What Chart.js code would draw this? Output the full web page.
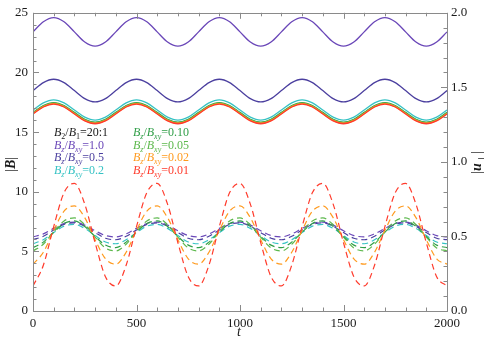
<!DOCTYPE html>
<html>
<head>
<meta charset="utf-8">
<script src="https://cdn.jsdelivr.net/npm/chart.js@4/dist/chart.umd.min.js"></script>
<style>
html,body{margin:0;padding:0;background:#fff;}
#c{display:block;}
</style>
</head>
<body>
<canvas id="c" width="484" height="339"></canvas>
<script>
// time axis (t)
const tValues = [0,50,100,150,200,250,300,350,400,450,500,550,600,650,700,750,800,850,900,950,1000,1050,1100,1150,1200,1250,1300,1350,1400,1450,1500,1550,1600,1650,1700,1750,1800,1850,1900,1950,2000];

// series names (Bz/Bxy ratios)
const ratioLabels = ['1.0','0.5','0.2','0.10','0.05','0.02','0.01'];
const seriesColors = ['#6a47b8','#4b3f9f','#35c2c4','#2f9e47','#5cb84c','#ff9a1e','#ff3b2c'];

// |B| (solid, left axis)
const absB_10 = [23.4,24.25,24.6,24.25,23.4,22.55,22.2,22.55, 23.4,24.25,24.6,24.25,23.4,22.55,22.2,22.55, 23.4,24.25,24.6,24.25,23.4,22.55,22.2,22.55, 23.4,24.25,24.6,24.25,23.4,22.55,22.2,22.55, 23.4,24.25,24.6,24.25,23.4,22.55,22.2,22.55, 23.4];
const absB_05 = [18.48,19.15,19.43,19.15,18.48,17.81,17.53,17.81, 18.48,19.15,19.43,19.15,18.48,17.81,17.53,17.81, 18.48,19.15,19.43,19.15,18.48,17.81,17.53,17.81, 18.48,19.15,19.43,19.15,18.48,17.81,17.53,17.81, 18.48,19.15,19.43,19.15,18.48,17.81,17.53,17.81, 18.48];
const absB_02 = [16.85,17.45,17.7,17.45,16.85,16.25,16.0,16.25, 16.85,17.45,17.7,17.45,16.85,16.25,16.0,16.25, 16.85,17.45,17.7,17.45,16.85,16.25,16.0,16.25, 16.85,17.45,17.7,17.45,16.85,16.25,16.0,16.25, 16.85,17.45,17.7,17.45,16.85,16.25,16.0,16.25, 16.85];
const absB_010 = [16.65,17.23,17.47,17.23,16.65,16.07,15.83,16.07, 16.65,17.23,17.47,17.23,16.65,16.07,15.83,16.07, 16.65,17.23,17.47,17.23,16.65,16.07,15.83,16.07, 16.65,17.23,17.47,17.23,16.65,16.07,15.83,16.07, 16.65,17.23,17.47,17.23,16.65,16.07,15.83,16.07, 16.65];
const absB_005 = [16.6,17.18,17.42,17.18,16.6,16.02,15.78,16.02, 16.6,17.18,17.42,17.18,16.6,16.02,15.78,16.02, 16.6,17.18,17.42,17.18,16.6,16.02,15.78,16.02, 16.6,17.18,17.42,17.18,16.6,16.02,15.78,16.02, 16.6,17.18,17.42,17.18,16.6,16.02,15.78,16.02, 16.6];
const absB_002 = [16.56,17.14,17.38,17.14,16.56,15.98,15.74,15.98, 16.56,17.14,17.38,17.14,16.56,15.98,15.74,15.98, 16.56,17.14,17.38,17.14,16.56,15.98,15.74,15.98, 16.56,17.14,17.38,17.14,16.56,15.98,15.74,15.98, 16.56,17.14,17.38,17.14,16.56,15.98,15.74,15.98, 16.56];
const absB_001 = [16.52,17.1,17.34,17.1,16.52,15.94,15.7,15.94, 16.52,17.1,17.34,17.1,16.52,15.94,15.7,15.94, 16.52,17.1,17.34,17.1,16.52,15.94,15.7,15.94, 16.52,17.1,17.34,17.1,16.52,15.94,15.7,15.94, 16.52,17.1,17.34,17.1,16.52,15.94,15.7,15.94, 16.52];

// |u_perp| (dashed, right axis)
const absU_10 = [0.497,0.517,0.554,0.587,0.596,0.576,0.538,0.506, 0.497,0.517,0.554,0.587,0.596,0.576,0.538,0.506, 0.497,0.517,0.554,0.587,0.596,0.576,0.538,0.506, 0.497,0.517,0.554,0.587,0.596,0.576,0.538,0.506, 0.497,0.517,0.554,0.587,0.596,0.576,0.538,0.506, 0.497];
const absU_05 = [0.478,0.501,0.543,0.581,0.591,0.568,0.526,0.488, 0.478,0.501,0.543,0.581,0.591,0.568,0.526,0.488, 0.478,0.501,0.543,0.581,0.591,0.568,0.526,0.488, 0.478,0.501,0.543,0.581,0.591,0.568,0.526,0.488, 0.478,0.501,0.543,0.581,0.591,0.568,0.526,0.488, 0.478];
const absU_02 = [0.451,0.478,0.526,0.569,0.581,0.554,0.506,0.463, 0.451,0.478,0.526,0.569,0.581,0.554,0.506,0.463, 0.451,0.478,0.526,0.569,0.581,0.554,0.506,0.463, 0.451,0.478,0.526,0.569,0.581,0.554,0.506,0.463, 0.451,0.478,0.526,0.569,0.581,0.554,0.506,0.463, 0.451];
const absU_010 = [0.425,0.462,0.529,0.587,0.604,0.567,0.500,0.442, 0.425,0.462,0.529,0.587,0.604,0.567,0.500,0.442, 0.425,0.462,0.529,0.587,0.604,0.567,0.500,0.442, 0.425,0.462,0.529,0.587,0.604,0.567,0.500,0.442, 0.425,0.462,0.529,0.587,0.604,0.567,0.500,0.442, 0.425];
const absU_005 = [0.403,0.448,0.531,0.604,0.624,0.579,0.496,0.423, 0.403,0.448,0.531,0.604,0.624,0.579,0.496,0.423, 0.403,0.448,0.531,0.604,0.624,0.579,0.496,0.423, 0.403,0.448,0.531,0.604,0.624,0.579,0.496,0.423, 0.403,0.448,0.531,0.604,0.624,0.579,0.496,0.423, 0.403];
const absU_002 = [0.314,0.394,0.541,0.670,0.705,0.626,0.478,0.350, 0.314,0.394,0.541,0.670,0.705,0.626,0.478,0.350, 0.314,0.394,0.541,0.670,0.705,0.626,0.478,0.350, 0.314,0.394,0.541,0.670,0.705,0.626,0.478,0.350, 0.314,0.394,0.541,0.670,0.705,0.626,0.478,0.350, 0.314];
const absU_001 = [0.168,0.307,0.566,0.794,0.856,0.717,0.458,0.230, 0.168,0.307,0.566,0.794,0.856,0.717,0.458,0.230, 0.168,0.307,0.566,0.794,0.856,0.717,0.458,0.230, 0.168,0.307,0.566,0.794,0.856,0.717,0.458,0.230, 0.168,0.307,0.566,0.794,0.856,0.717,0.458,0.230, 0.168];

// tick labels
const xTickLabels = [0,500,1000,1500,2000];
const yLeftTickLabels = [0,5,10,15,20,25];
const yRightTickLabels = ['0.0','0.5','1.0','1.5','2.0'];

const absBSeries = [absB_10,absB_05,absB_02,absB_010,absB_005,absB_002,absB_001];
const absUSeries = [absU_10,absU_05,absU_02,absU_010,absU_005,absU_002,absU_001];

const toXY = arr => arr.map((v,i)=>({x:tValues[i], y:v}));
const datasets = [];
absBSeries.forEach((arr,i)=>{
  datasets.push({label:'|B| '+ratioLabels[i], data:toXY(arr), yAxisID:'y', borderColor:seriesColors[i],
    borderWidth:1.3, pointRadius:0, fill:false, cubicInterpolationMode:'monotone', order: 20 - i});
});
absUSeries.forEach((arr,i)=>{
  datasets.push({label:'|u| '+ratioLabels[i], data:toXY(arr), yAxisID:'y1', borderColor:seriesColors[i],
    borderWidth:1.2, borderDash:[6,4], pointRadius:0, fill:false, cubicInterpolationMode:'monotone', order: 10 - i});
});

const SERIF = '"Liberation Serif", "DejaVu Serif", serif';
const AXIS_COLOR = '#8a8a8a';
const TEXT_COLOR = '#1a1a1a';

function near(v, step){ return Math.abs(v/step - Math.round(v/step)) < 1e-6; }

// draw rich text: segments [{t, it, sub, bold}]
function drawRich(ctx, x, y, segs, color, size){
  ctx.save();
  ctx.fillStyle = color;
  ctx.textBaseline = 'alphabetic';
  ctx.textAlign = 'left';
  let cx = x;
  segs.forEach(s=>{
    const fs = s.sub ? Math.round(size*0.68) : size;
    ctx.font = (s.it?'italic ':'') + (s.bold?'bold ':'') + fs + 'px ' + SERIF;
    ctx.fillText(s.t, cx, y + (s.sub ? size*0.28 : 0));
    cx += ctx.measureText(s.t).width;
  });
  ctx.restore();
  return cx - x;
}

const framePlugin = {
  id:'frame',
  afterDraw(chart){
    const {ctx, chartArea:a, scales} = chart;
    ctx.save();
    ctx.strokeStyle = AXIS_COLOR;
    ctx.lineWidth = 1;
    ctx.strokeRect(Math.round(a.left)+0.5, Math.round(a.top)+0.5, Math.round(a.right-a.left), Math.round(a.bottom-a.top));
    ctx.beginPath();
    // x ticks bottom & top
    for (let v=0; v<=2000; v+=100){
      const px = Math.round(scales.x.getPixelForValue(v))+0.5;
      const L = (v%500===0) ? 6 : 3.5;
      ctx.moveTo(px, a.bottom); ctx.lineTo(px, a.bottom-L);
      ctx.moveTo(px, a.top); ctx.lineTo(px, a.top+L);
    }
    // left ticks
    for (let v=0; v<=25; v+=1){
      const py = Math.round(scales.y.getPixelForValue(v))+0.5;
      const L = (v%5===0) ? 6 : 3.5;
      ctx.moveTo(a.left, py); ctx.lineTo(a.left+L, py);
    }
    // right ticks
    for (let k=0; k<=20; k++){
      const v = k/10;
      const py = Math.round(scales.y1.getPixelForValue(v))+0.5;
      const L = (k%5===0) ? 6 : 3.5;
      ctx.moveTo(a.right, py); ctx.lineTo(a.right-L, py);
    }
    ctx.stroke();
    ctx.restore();

    // axis titles
    drawRich(ctx, (a.left+a.right)/2 - 3, 336, [{t:'t', it:true}], TEXT_COLOR, 14);
    ctx.save();
    ctx.translate(15, (a.top+a.bottom)/2 + 10);
    ctx.rotate(-Math.PI/2);
    drawRich(ctx, 0, 0, [{t:'|'},{t:'B', it:true, bold:true},{t:'|'}], TEXT_COLOR, 14);
    ctx.restore();
    ctx.save();
    ctx.translate(481, (a.top+a.bottom)/2 + 12);
    ctx.rotate(-Math.PI/2);
    drawRich(ctx, 0, 0, [{t:'|'},{t:'u', it:true, bold:true},{t:'\u22A5', sub:true},{t:'|'}], TEXT_COLOR, 14);
    ctx.restore();

    // in-plot legend
    const fs = 12;
    const col1 = 54, col2 = 133;
    const rows = [136, 148.5, 161, 173.5];
    drawRich(ctx, col1, rows[0], [{t:'B',it:true},{t:'2',sub:true},{t:'/'},{t:'B',it:true},{t:'1',sub:true},{t:'=20:1'}], TEXT_COLOR, fs);
    const entries = [[col1,rows[1],0],[col1,rows[2],1],[col1,rows[3],2],[col2,rows[0],3],[col2,rows[1],4],[col2,rows[2],5],[col2,rows[3],6]];
    entries.forEach(([x,y,i])=>{
      drawRich(ctx, x, y, [{t:'B',it:true},{t:'z',sub:true,it:true},{t:'/'},{t:'B',it:true},{t:'xy',sub:true,it:true},{t:'='+ratioLabels[i]}], seriesColors[i], fs);
    });
  }
};

new Chart(document.getElementById('c'), {
  type:'line',
  data:{datasets},
  options:{
    responsive:false,
    animation:false,
    devicePixelRatio:1,
    layout:{padding:{top:4, left:0, right:0, bottom:0}},
    plugins:{legend:{display:false}, tooltip:{enabled:false}},
    scales:{
      x:{type:'linear', min:0, max:2000,
        grid:{display:false, drawTicks:false}, border:{display:false},
        ticks:{stepSize:100, autoSkip:false, maxRotation:0, padding:5, color:TEXT_COLOR,
          font:{family:SERIF, size:13},
          callback:v => xTickLabels.includes(v) ? String(v) : ''},
        afterFit:s=>{ s.height = 28; }
      },
      y:{type:'linear', position:'left', min:0, max:25,
        grid:{display:false, drawTicks:false}, border:{display:false},
        ticks:{stepSize:1, autoSkip:false, padding:5, color:TEXT_COLOR,
          font:{family:SERIF, size:13},
          callback:v => yLeftTickLabels.includes(v) ? String(v) : ''},
        afterFit:s=>{ s.width = 33; }
      },
      y1:{type:'linear', position:'right', min:0, max:2,
        grid:{display:false, drawTicks:false}, border:{display:false},
        ticks:{stepSize:0.1, autoSkip:false, padding:4, color:TEXT_COLOR,
          font:{family:SERIF, size:13},
          callback:v => { const s = v.toFixed(1); return (near(v,0.5) && yRightTickLabels.includes(s)) ? s : ''; }},
        afterFit:s=>{ s.width = 37; }
      }
    }
  },
  plugins:[framePlugin]
});
</script>
</body>
</html>
